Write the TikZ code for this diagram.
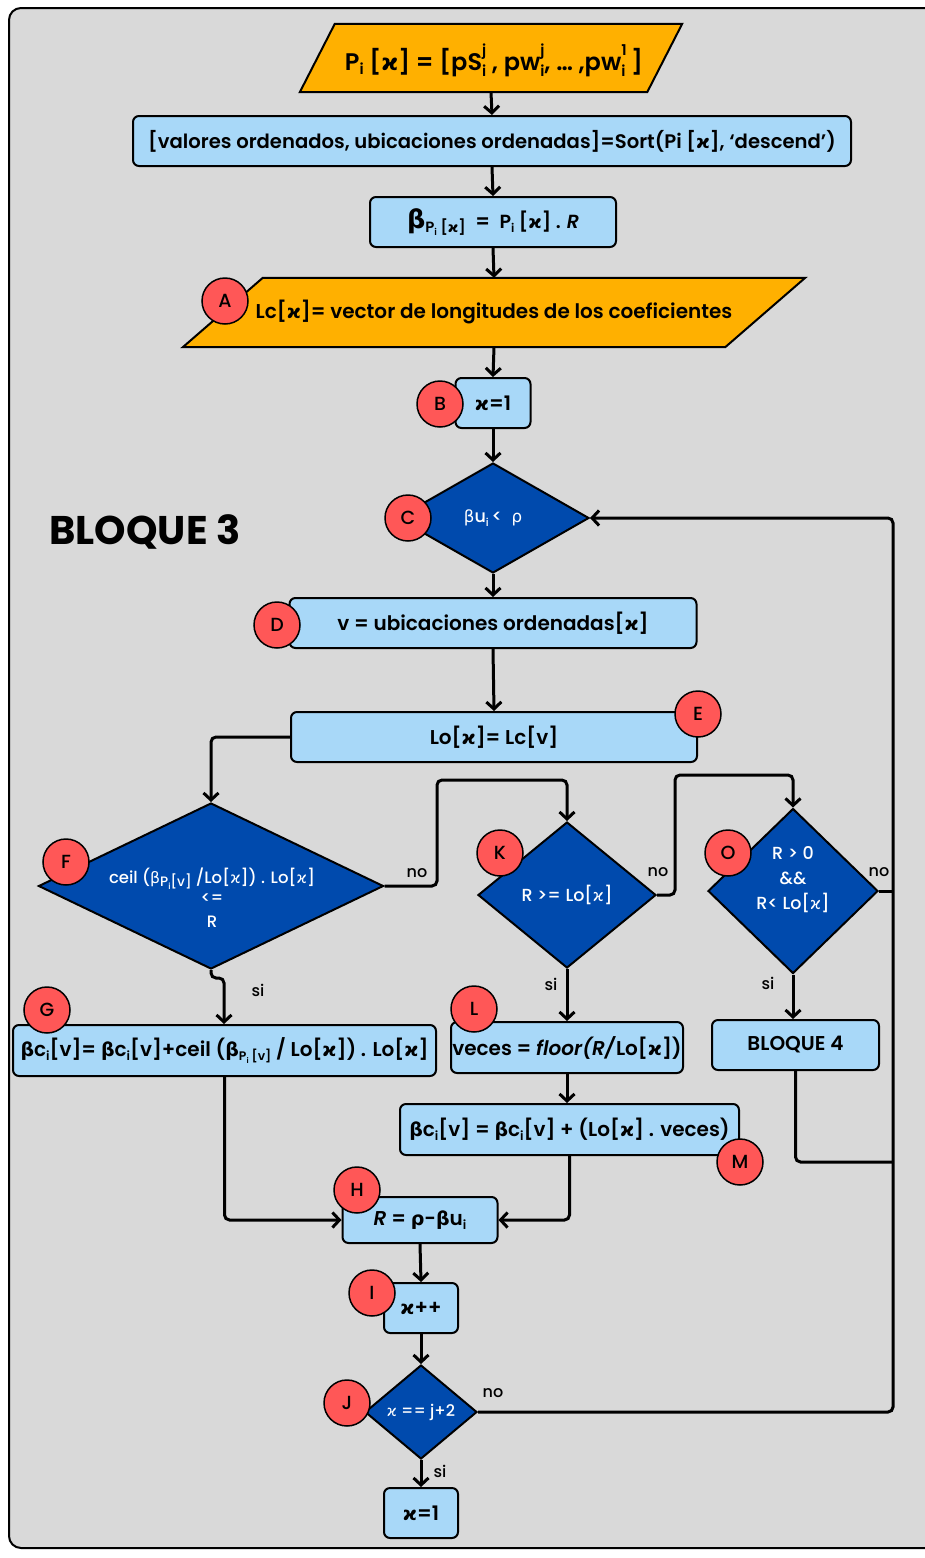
\documentclass[tikz,border=0pt]{standalone}
\usepackage{graphicx}
\usepackage{fontspec}
\setmainfont{Poppins}
\newfontfamily\medfont{Poppins Medium}
\newfontfamily\semifont{Poppins SemiBold}[ItalicFont={Poppins SemiBold Italic}]
\newfontfamily\gkfont[Scale=0.95]{DejaVu Sans}
\usetikzlibrary{shapes.geometric,arrows.meta}

\definecolor{panelgray}{HTML}{D9D9D9}
\definecolor{boxblue}{HTML}{A8D8F8}
\definecolor{inorange}{HTML}{FFB000}
\definecolor{decblue}{HTML}{004AAD}
\definecolor{tagred}{HTML}{FF5757}

% Greek letters and scripts
\newcommand{\gB}{{\gkfont\bfseries β}}
\newcommand{\gR}{{\gkfont\bfseries ρ}}
\newcommand{\kap}{{\gkfont\bfseries ϰ}}
\newcommand{\gBl}{{\gkfont β}}
\newcommand{\gRl}{{\gkfont ρ}}
\newcommand{\kapl}{{\gkfont ϰ}}
\newcommand{\sbs}[1]{\raisebox{-0.35ex}{\scalebox{0.62}{#1}}}
\newcommand{\sps}[1]{\raisebox{1.15ex}{\scalebox{0.62}{#1}}}
\newcommand{\ssp}[2]{\makebox[0pt][l]{\sps{#1}}\raisebox{-0.1ex}{\sbs{#2}}}

\tikzset{
  panel/.style={draw=black, line width=2pt, rounded corners=12pt, fill=panelgray},
  proc/.style={draw=black, line width=2pt, rounded corners=6pt, fill=boxblue,
    inner sep=0pt, font=\fontsize{20}{24}\selectfont\semifont},
  iobox/.style={inner sep=0pt},
  iofill/.style={draw=black, line width=2pt, fill=inorange},
  dia/.style={diamond, draw=black, line width=2pt, fill=decblue, inner sep=0pt},
  dtext/.style={text=white, align=center, inner sep=0pt,
    font=\fontsize{17.5}{25}\selectfont\medfont},
  tag/.style={circle, draw=black, line width=1.5pt, fill=tagred,
    minimum size=46pt, inner sep=0pt, font=\fontsize{19}{20}\selectfont\medfont},
  flow/.style={line width=3pt, rounded corners=5pt,
    -{Straight Barb[length=7pt,width=15pt]}},
  link/.style={line width=3pt, rounded corners=5pt},
  lbl/.style={font=\fontsize{16}{16}\selectfont\medfont, inner sep=0pt}
}

\begin{document}
\begin{tikzpicture}[x=1pt,y=-1pt]
\useasboundingbox (0,0) rectangle (925,1558);
\fill[white] (0,0) rectangle (925,1558);
\draw[panel] (9,8) rectangle (955,1548);

\node[font=\fontsize{40}{44}\selectfont\bfseries] (title) at (145,532) {BLOQUE 3};

% input parallelograms
\node[iobox, minimum width=382pt, minimum height=68pt] (P0) at (491,58) {};
\draw[iofill] ([xshift=35pt]P0.north west) -- (P0.north east)
  -- ([xshift=-35pt]P0.south east) -- (P0.south west) -- cycle;
\node[font=\fontsize{24}{26}\selectfont\semifont] (P0t) at (494,60)
  {P\sbs{i} [\kap] = [pS\ssp{j}{i} , pw\ssp{j}{i}, … ,pw\ssp{1}{i} ]};

\node[iobox, minimum width=622pt, minimum height=69pt] (A) at (494,312.5) {};
\draw[iofill] ([xshift=80pt]A.north west) -- (A.north east)
  -- ([xshift=-80pt]A.south east) -- (A.south west) -- cycle;
\node[font=\fontsize{20}{24}\selectfont\semifont] (At) at (494,312)
  {Lc[\kap]= vector de longitudes de los coeficientes};

% process boxes
\node[proc, minimum width=718pt, minimum height=50pt, font=\fontsize{19.6}{24}\selectfont\semifont] (sort) at (492,141)
  {[valores ordenados, ubicaciones ordenadas]=Sort(Pi [\kap], ‘descend’)};
\node[proc, minimum width=246pt, minimum height=50pt] (beta) at (493,222)
  {{\fontsize{27}{27}\selectfont\gB}\sbs{\fontsize{24}{24}\selectfont P\sbs{i} [\kap]}\ \ =\ \ {\fontsize{19}{20}\selectfont P\sbs{i} [\kap] . \textit{R}}};
\node[proc, minimum width=75pt, minimum height=50pt] (B) at (493,403) {\kap=1};
\node[proc, minimum width=407pt, minimum height=50pt] (D) at (493,623)
  {v = ubicaciones ordenadas[\kap]};
\node[proc, minimum width=406pt, minimum height=50pt] (E) at (494,737)
  {Lo[\kap]= Lc[v]};
\node[proc, minimum width=423pt, minimum height=51pt] (G) at (224.5,1050.5)
  {\gB c\sbs{i}[v]= \gB c\sbs{i}[v]+ceil (\gB\sbs{P\sbs{i} [v]} / Lo[\kap]) . Lo[\kap]};
\node[proc, minimum width=232pt, minimum height=51pt] (L) at (567,1047.5)
  {veces = \textit{floor(R/}Lo[\kap])};
\node[proc, minimum width=339pt, minimum height=51pt] (M) at (569.5,1129.5)
  {\gB c\sbs{i}[v] = \gB c\sbs{i}[v] + (Lo[\kap] . veces)};
\node[proc, minimum width=167pt, minimum height=50pt] (B4) at (795.5,1045)
  {BLOQUE 4};
\node[proc, minimum width=155pt, minimum height=46pt] (H) at (420,1220)
  {\textit{R} = \gR-\gB u\sbs{i}};
\node[proc, minimum width=74pt, minimum height=50pt] (I) at (421,1308) {\kap++};
\node[proc, minimum width=74pt, minimum height=50pt] (fin) at (421,1513) {\kap=1};

% decisions
\node[dia, minimum width=192pt, minimum height=110pt] (C) at (493,518) {};
\node[dtext] (Ct) at (493,518) {\gBl u\sbs{i}\,<\ \ \gRl};
\node[dia, minimum width=345pt, minimum height=166pt] (F) at (211,886) {};
\node[dtext, font=\fontsize{16.5}{24}\selectfont\medfont] (Ft) at (212,898)
  {ceil (\gBl\sbs{\fontsize{22}{22}\selectfont P\sbs{i}[v]} /Lo[\kapl]) . Lo[\kapl]\\[-4pt] <=\\ R};
\node[dia, minimum width=178pt, minimum height=146pt] (K) at (567,895) {};
\node[dtext] (Kt) at (567,895) {R >= Lo[\kapl]};
\node[dia, minimum width=170pt, minimum height=165pt] (O) at (793,891) {};
\node[dtext] (Ot) at (793,880) {R > 0\\ \&\&\\ R< Lo[\kapl]};
\node[dia, minimum width=112pt, minimum height=94pt] (J) at (421,1412) {};
\node[dtext, font=\fontsize{16}{20}\selectfont\medfont] (Jt) at (421,1412) {\kapl\ == j+2};

% junction points of the return lines
\coordinate (fk) at (437,780);
\coordinate (ko) at (675,775);
\coordinate (fg) at (224,978);
\coordinate (rl) at (893,518);
\coordinate (bj) at (893,1162);

% connectors
\draw[flow] (P0.south) -- (sort.north);
\draw[flow] (sort.south) -- (beta.north);
\draw[flow] (beta.south) -- (A.north);
\draw[flow] (A.south) -- (B.north);
\draw[flow] (B.south) -- (C.north);
\draw[flow] (C.south) -- (D.north);
\draw[flow] (D.south) -- (E.north);
\draw[flow] (E.west) -| (F.north);
\draw[flow] (F.east) -| (fk) -| (K.north);
\draw[flow] (F.south) |- (fg) -- (fg |- G.north);
\draw[flow] (G.south) |- (H.west);
\draw[flow] (K.east) -| (ko) -| (O.north);
\draw[flow] (K.south) -- (L.north);
\draw[flow] (L.south) -- (L.south |- M.north);
\draw[flow] (M.south) |- (H.east);
\draw[flow] (O.south) -- (O.south |- B4.north);
\draw[link] (O.east) -- (O.east -| rl);
\draw[link] (B4.south) |- (bj);
\draw[flow] (H.south) -- (I.north);
\draw[flow] (I.south) -- (J.north);
\draw[flow] (J.south) -- (fin.north);
\draw[flow] (J.east) -| (rl) -- (C.east);

% branch labels
\node[lbl] (n1) at (417,873) {no};
\node[lbl] (s1) at (258,990) {si};
\node[lbl] (n2) at (658,872) {no};
\node[lbl] (s2) at (551,984) {si};
\node[lbl] (n3) at (879,872) {no};
\node[lbl] (s3) at (768,983) {si};
\node[lbl] (n4) at (493,1393) {no};
\node[lbl] (s4) at (440,1471) {si};

% step tags
\node[tag] (tA) at (225,301) {A};
\node[tag] (tB) at (440,404) {B};
\node[tag] (tC) at (408,518) {C};
\node[tag] (tD) at (277,625) {D};
\node[tag] (tE) at (698,714) {E};
\node[tag] (tF) at (66,862) {F};
\node[tag] (tG) at (47,1010) {G};
\node[tag] (tK) at (500,853) {K};
\node[tag] (tL) at (474,1009) {L};
\node[tag] (tM) at (740,1162) {M};
\node[tag] (tO) at (728,853) {O};
\node[tag] (tH) at (357,1190) {H};
\node[tag] (tI) at (372,1293) {I};
\node[tag] (tJ) at (347,1403) {J};
\end{tikzpicture}
\end{document}
